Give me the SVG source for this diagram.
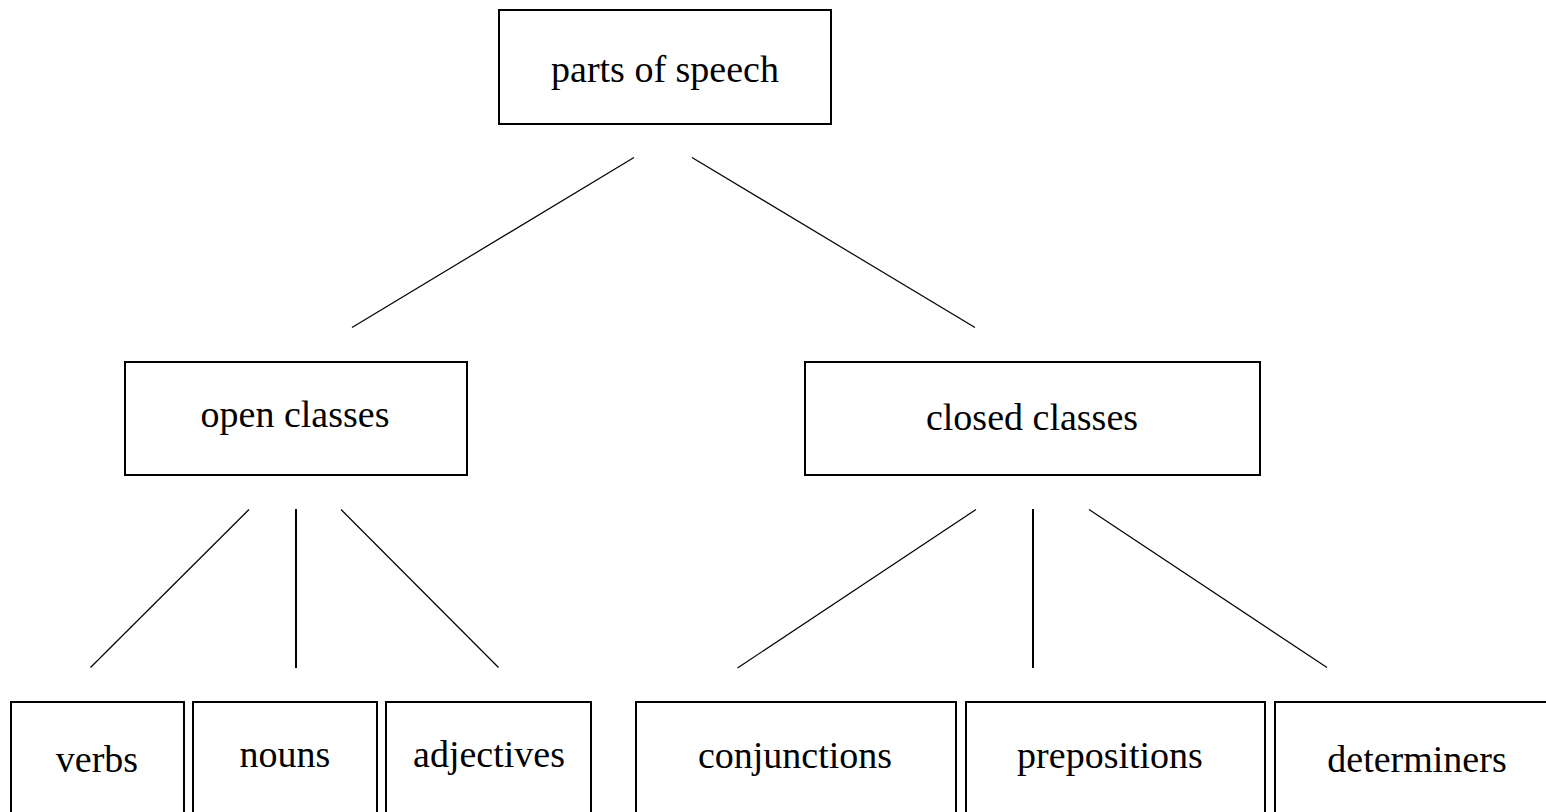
<svg xmlns="http://www.w3.org/2000/svg" width="1546" height="812" viewBox="0 0 1546 812">
<style>
.box{fill:#fff;stroke:#000;stroke-width:2}
.lbl{font-family:"Liberation Serif","Times New Roman",serif;font-size:38px;fill:#000;text-anchor:middle}
.edge{stroke:#000;stroke-width:1.2;fill:none}
.vert{stroke:#000;stroke-width:2;fill:none}
</style>
<rect width="1546" height="812" fill="#fff"/>
<g id="connectors">
<line class="edge" x1="634" y1="157.5" x2="352" y2="327.5"/>
<line class="edge" x1="692" y1="157.5" x2="975" y2="327.5"/>
<line class="edge" x1="249" y1="509.5" x2="90.5" y2="667.5"/>
<line class="vert" x1="296" y1="509" x2="296" y2="668"/>
<line class="edge" x1="341" y1="509.5" x2="498.5" y2="667.5"/>
<line class="edge" x1="976" y1="509.5" x2="737.5" y2="668"/>
<line class="vert" x1="1033" y1="509" x2="1033" y2="668"/>
<line class="edge" x1="1089" y1="509.5" x2="1327" y2="667.5"/>
</g>
<g id="parts_of_speech">
<rect class="box" x="499" y="10" width="332" height="114"/>
<text class="lbl" x="665" y="82">parts of speech</text>
</g>
<g id="open_classes">
<rect class="box" x="125" y="362" width="342" height="113"/>
<text class="lbl" x="295" y="427">open classes</text>
</g>
<g id="closed_classes">
<rect class="box" x="805" y="362" width="455" height="113"/>
<text class="lbl" x="1032" y="430">closed classes</text>
</g>
<g id="verbs">
<rect class="box" x="11" y="702" width="173" height="130"/>
<text class="lbl" x="97" y="772">verbs</text>
</g>
<g id="nouns">
<rect class="box" x="193" y="702" width="184" height="130"/>
<text class="lbl" x="285" y="767">nouns</text>
</g>
<g id="adjectives">
<rect class="box" x="386" y="702" width="205" height="130"/>
<text class="lbl" x="489" y="767">adjectives</text>
</g>
<g id="conjunctions">
<rect class="box" x="636" y="702" width="320" height="130"/>
<text class="lbl" x="795" y="768">conjunctions</text>
</g>
<g id="prepositions">
<rect class="box" x="966" y="702" width="299" height="130"/>
<text class="lbl" x="1110" y="768">prepositions</text>
</g>
<g id="determiners">
<rect class="box" x="1275" y="702" width="290" height="130"/>
<text class="lbl" x="1417" y="772">determiners</text>
</g>
</svg>
